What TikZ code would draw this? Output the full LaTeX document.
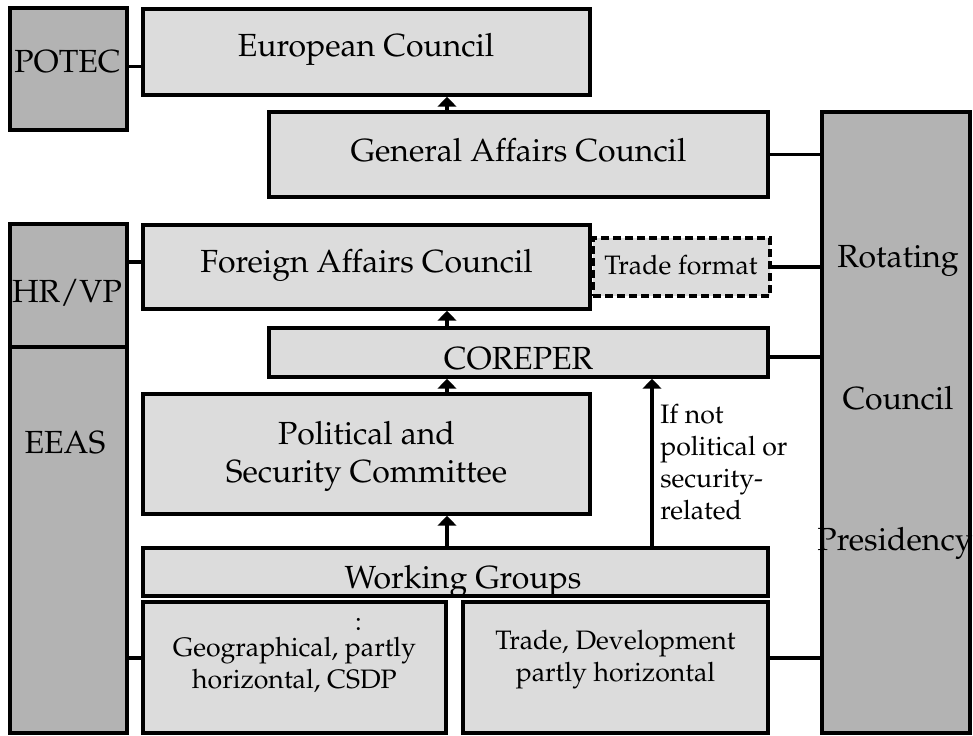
\documentclass[tikz,border=0pt]{standalone}
\usepackage[T1]{fontenc}
\usepackage{mathpazo}
\usetikzlibrary{arrows.meta,fit}
\definecolor{lightg}{HTML}{DCDCDC}
\definecolor{darkg}{HTML}{B3B3B3}
\newcommand{\mlc}[1]{\begin{tabular}[t]{@{}c@{}}#1\end{tabular}}
\newcommand{\mll}[1]{\begin{tabular}[t]{@{}l@{}}#1\end{tabular}}
\begin{document}
\begin{tikzpicture}[x=0.75pt,y=-0.75pt,
  lbox/.style={draw, line width=2.6pt, fill=lightg, inner sep=0pt, rectangle},
  dbox/.style={draw, line width=2.6pt, fill=darkg, inner sep=0pt, rectangle},
  tbox/.style={draw, line width=2.4pt, fill=lightg, inner sep=0pt, rectangle, dash pattern=on 6pt off 3pt},
  big/.style={font=\fontsize{24}{28.5}\selectfont, inner sep=0pt, anchor=base},
  small/.style={font=\fontsize{20}{24}\selectfont, inner sep=0pt, anchor=base},
  conn/.style={line width=2.6pt},
  arr/.style={line width=2.6pt, -{Triangle[width=14pt,length=7.5pt]}}]
\useasboundingbox (0,0) rectangle (973,735);
% boxes
\node[dbox, fit={(10,8) (127,130)}] (potec) {};
\node[lbox, fit={(143,9) (590,95)}] (ec) {};
\node[lbox, fit={(269,112) (768,197)}] (gac) {};
\node[dbox, fit={(822,112) (970,733)}] (pres) {};
\node[dbox, fit={(10,224) (127,347)}] (hrvp) {};
\node[dbox, fit={(10,347) (127,733)}] (eeas) {};
\node[tbox, fit={(593,238) (770,296)}] (tf) {};
\node[lbox, fit={(143,225) (590,309)}] (fac) {};
\node[lbox, fit={(269,328) (768,377)}] (coreper) {};
\node[lbox, fit={(143,394) (590,514)}] (psc) {};
\node[lbox, fit={(143,548) (768,596)}] (wg) {};
\node[lbox, fit={(143,602) (446,733)}] (geo) {};
\node[lbox, fit={(463,602) (768,733)}] (td) {};
% texts
\node[big] (potect) at (67.5,72) {POTEC};
\node[big] (ect) at (366,57) {European Council};
\node[big] (gact) at (518.5,161) {General Affairs Council};
\node[big] (hrvpt) at (67,302) {HR/VP};
\node[big] (eeast) at (65,453) {EEAS};
\node[big] (fact) at (366.5,272) {Foreign Affairs Council};
\node[small] (tft) at (681,274) {Trade format};
\node[big] (corepert) at (518.5,369) {COREPER};
\node[big] (psct) at (366.5,444) {\mlc{Political and\\Security Committee}};
\node[big] (wgt) at (463,588) {Working Groups};
\node[small] (geot) at (294.5,630) {\mlc{\makebox[101pt][r]{:}\\[-4pt]Geographical, partly\\horizontal, CSDP}};
\node[small] (tdt) at (615.5,649) {\mlc{Trade, Development\\partly horizontal}};
\node[small, anchor=base west] (ift) at (660,423) {\mll{If not\\political or\\security-\\related}};
\node[big] (rott) at (898,267) {Rotating};
\node[big] (cout) at (898,409) {Council};
\node[big] (prest) at (895,550) {Presidency};
% arrows
\coordinate (ax) at (447,0);
\coordinate (bx) at (652,0);
\draw[arr] (gac.north -| ax) -- (ec.south -| ax);
\draw[arr] (coreper.north -| ax) -- (fac.south -| ax);
\draw[arr] (psc.north -| ax) -- (coreper.south -| ax);
\draw[arr] (wg.north -| ax) -- (psc.south -| ax);
\draw[arr] (wg.north -| bx) -- (coreper.south -| bx);
% connectors
\coordinate (pe) at ([yshift=2pt]potec.east);
\draw[conn] (pe) -- (pe -| ec.west);
\draw[conn] (gac.east) -- (gac.east -| pres.west);
\coordinate (hf) at ([yshift=3.75pt]fac.west);
\draw[conn] (hf -| hrvp.east) -- (hf);
\draw[conn] (tf.east) -- (tf.east -| pres.west);
\coordinate (cp) at ([yshift=-3.4pt]coreper.east);
\draw[conn] (cp) -- (cp -| pres.west);
\coordinate (gw) at ([yshift=7pt]geo.west);
\draw[conn] (gw -| eeas.east) -- (gw);
\coordinate (te) at ([yshift=7pt]td.east);
\draw[conn] (te) -- (te -| pres.west);
\end{tikzpicture}
\end{document}
